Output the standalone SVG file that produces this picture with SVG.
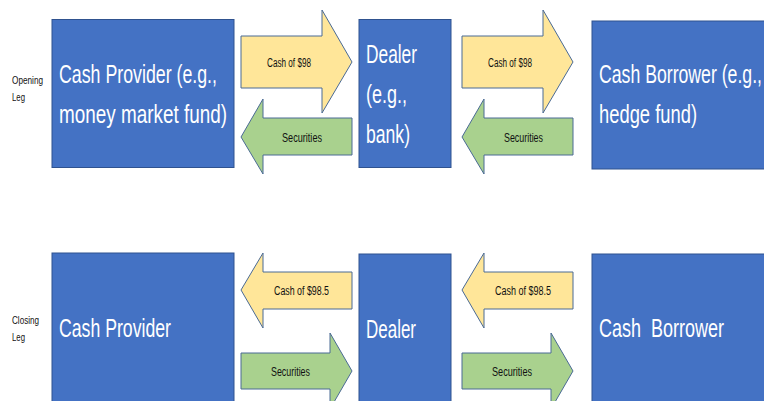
<svg xmlns="http://www.w3.org/2000/svg" width="764" height="401" viewBox="0 0 764 401">
<style>
.box{fill:#4472C4;stroke:#2F528F;stroke-width:1}
.big{font-family:"Liberation Sans",Arial,sans-serif;font-size:26px;fill:#FFFFFF}
.lbl{font-family:"Liberation Sans",Arial,sans-serif;font-size:12px;fill:#111111}
.side{font-family:"Liberation Sans",Arial,sans-serif;font-size:11px;fill:#111111}
.cash{fill:#FFE699;stroke:#4A6A95;stroke-width:1}
.sec{fill:#A9D18E;stroke:#4A6A95;stroke-width:1}
</style>
<rect width="764" height="401" fill="#FFFFFF"/>
<g id="label-opening">
<text class="side" x="12" y="84" textLength="31" lengthAdjust="spacingAndGlyphs">Opening</text>
<text class="side" x="12" y="101" textLength="13" lengthAdjust="spacingAndGlyphs">Leg</text>
</g>
<g id="label-closing">
<text class="side" x="12" y="324" textLength="27" lengthAdjust="spacingAndGlyphs">Closing</text>
<text class="side" x="12" y="341" textLength="13" lengthAdjust="spacingAndGlyphs">Leg</text>
</g>
<g id="cash-provider-open">
<rect class="box" x="52" y="19.5" width="182" height="148"/>
<text class="big" x="59" y="83" textLength="158" lengthAdjust="spacingAndGlyphs">Cash Provider (e.g.,</text>
<text class="big" x="59" y="123" textLength="168" lengthAdjust="spacingAndGlyphs">money market fund)</text>
</g>
<g id="dealer-open">
<rect class="box" x="359" y="19.5" width="92" height="148"/>
<text class="big" x="366" y="63" textLength="51" lengthAdjust="spacingAndGlyphs">Dealer</text>
<text class="big" x="366" y="103" textLength="41" lengthAdjust="spacingAndGlyphs">(e.g.,</text>
<text class="big" x="366" y="143" textLength="44" lengthAdjust="spacingAndGlyphs">bank)</text>
</g>
<g id="cash-borrower-open">
<rect class="box" x="592" y="21" width="180" height="148"/>
<text class="big" x="599" y="83" textLength="163" lengthAdjust="spacingAndGlyphs">Cash Borrower (e.g.,</text>
<text class="big" x="599" y="123" textLength="98" lengthAdjust="spacingAndGlyphs">hedge fund)</text>
</g>
<g id="cash-provider-close">
<rect class="box" x="52" y="253" width="182" height="160"/>
<text class="big" x="59" y="337" textLength="112" lengthAdjust="spacingAndGlyphs">Cash Provider</text>
</g>
<g id="dealer-close">
<rect class="box" x="359" y="254" width="92" height="160"/>
<text class="big" x="366" y="338" textLength="50" lengthAdjust="spacingAndGlyphs">Dealer</text>
</g>
<g id="cash-borrower-close">
<rect class="box" x="592" y="254" width="180" height="160"/>
<text class="big" x="599" y="337" textLength="125" lengthAdjust="spacingAndGlyphs" style="white-space:pre">Cash  Borrower</text>
</g>
<g id="connectors">
<path class="cash" d="M241,36 H322 V10 L352,62 L322,113 V88 H241 Z"/>
<text class="lbl" x="267" y="66.5" textLength="44" lengthAdjust="spacingAndGlyphs">Cash of $98</text>
<path class="sec" d="M241,137 L263,99 V118 H352 V155 H263 V174 Z"/>
<text class="lbl" x="282" y="141.5" textLength="40" lengthAdjust="spacingAndGlyphs">Securities</text>
<path class="cash" d="M462,36 H543 V10 L573,62 L543,113 V88 H462 Z"/>
<text class="lbl" x="488" y="66.5" textLength="44" lengthAdjust="spacingAndGlyphs">Cash of $98</text>
<path class="sec" d="M462,137 L484,99 V118 H573 V155 H484 V174 Z"/>
<text class="lbl" x="504" y="141.5" textLength="39" lengthAdjust="spacingAndGlyphs">Securities</text>
<path class="cash" d="M241,290 L263,253 V272 H352 V309 H263 V328 Z"/>
<text class="lbl" x="274" y="295" textLength="55" lengthAdjust="spacingAndGlyphs">Cash of $98.5</text>
<path class="sec" d="M241,353 H330 V333 L352,371 L330,409 V389 H241 Z"/>
<text class="lbl" x="271" y="375.5" textLength="39" lengthAdjust="spacingAndGlyphs">Securities</text>
<path class="cash" d="M462,290 L484,253 V272 H573 V309 H484 V328 Z"/>
<text class="lbl" x="495" y="295" textLength="56" lengthAdjust="spacingAndGlyphs">Cash of $98.5</text>
<path class="sec" d="M462,353 H551 V333 L573,371 L551,409 V389 H462 Z"/>
<text class="lbl" x="492" y="375.5" textLength="40" lengthAdjust="spacingAndGlyphs">Securities</text>
</g>
</svg>
